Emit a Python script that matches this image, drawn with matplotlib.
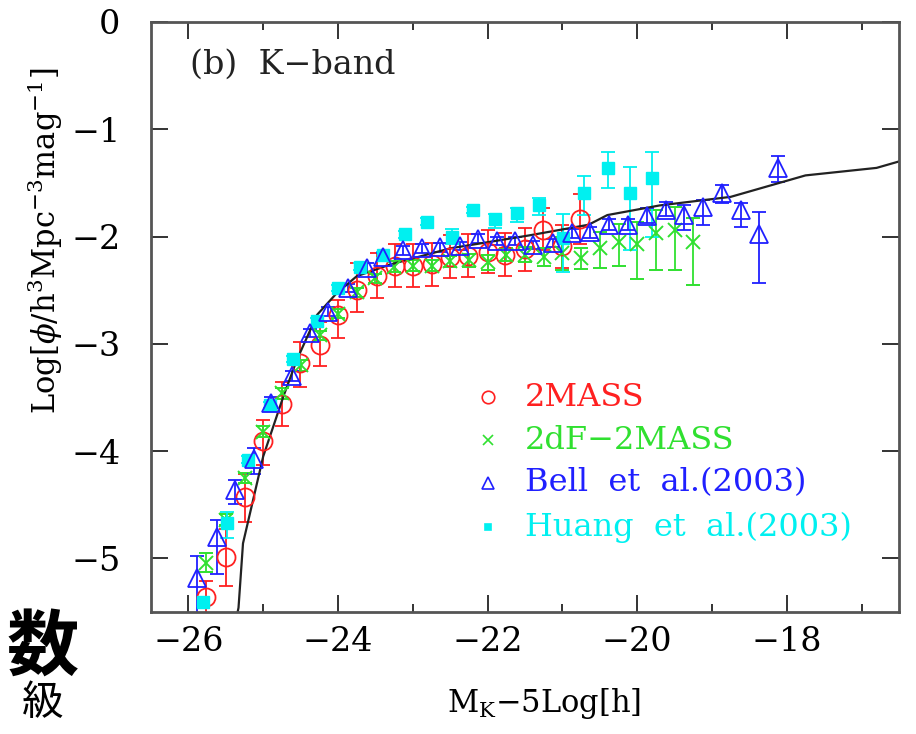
import numpy as np
import matplotlib.pyplot as plt
from matplotlib.ticker import MultipleLocator

plt.rcParams['font.family'] = 'DejaVu Serif'
plt.rcParams['mathtext.fontset'] = 'dejavuserif'

# model curve
model_x = [-25.40, -25.33, -25.27, -25.0, -24.73, -24.55, -24.28, -24.02, -23.75, -23.3,
           -22.5, -21.45, -20.65, -20.4, -19.7, -18.75, -18.05, -17.75, -16.8, -16.5]
model_y = [-5.70, -5.46, -4.86, -4.05, -3.49, -3.15, -2.73, -2.53, -2.37, -2.26,
           -2.11, -1.99, -1.89, -1.80, -1.71, -1.63, -1.49, -1.43, -1.36, -1.30]

# 2MASS
mass_x = [-25.76, -25.50, -25.25, -25.00, -24.75, -24.51, -24.24, -24.00, -23.75, -23.48,
          -23.24, -23.00, -22.75, -22.50, -22.26, -22.00, -21.77, -21.50, -21.26, -21.00, -20.76]
mass_y = [-5.36, -4.99, -4.43, -3.91, -3.56, -3.18, -3.01, -2.73, -2.50, -2.37,
          -2.27, -2.27, -2.26, -2.19, -2.18, -2.14, -2.17, -2.12, -1.94, -2.09, -1.84]
mass_lo = [0.15, 0.27, 0.23, 0.22, 0.21, 0.22, 0.20, 0.22, 0.20, 0.20,
           0.20, 0.20, 0.20, 0.20, 0.20, 0.20, 0.20, 0.20, 0.19, 0.20, 0.23]
mass_hi = [0.15, 0.26, 0.22, 0.20, 0.20, 0.20, 0.21, 0.14, 0.25, 0.22,
           0.20, 0.20, 0.20, 0.20, 0.20, 0.20, 0.20, 0.20, 0.21, 0.20, 0.24]

# 2dF-2MASS
tdf_x = [-25.76, -25.50, -25.25, -25.00, -24.75, -24.49, -24.24, -24.00, -23.75, -23.50,
         -23.25, -23.00, -22.75, -22.50, -22.25, -22.00, -21.75, -21.50, -21.25, -21.00,
         -20.75, -20.50, -20.25, -20.00, -19.75, -19.50, -19.25]
tdf_y = [-5.04, -4.64, -4.25, -3.82, -3.46, -3.20, -2.92, -2.72, -2.52, -2.39,
         -2.28, -2.27, -2.27, -2.23, -2.22, -2.24, -2.17, -2.17, -2.19, -2.15,
         -2.20, -2.11, -2.05, -2.07, -1.97, -1.94, -2.05]
tdf_lo = [0.09, 0.05, 0.05, 0.05, 0.05, 0.05, 0.04, 0.04, 0.04, 0.04,
          0.05, 0.05, 0.05, 0.05, 0.06, 0.07, 0.06, 0.07, 0.08, 0.16,
          0.10, 0.18, 0.22, 0.33, 0.34, 0.37, 0.40]
tdf_hi = [0.09, 0.05, 0.05, 0.05, 0.05, 0.05, 0.04, 0.04, 0.04, 0.04,
          0.05, 0.05, 0.05, 0.05, 0.06, 0.07, 0.06, 0.07, 0.08, 0.15,
          0.09, 0.15, 0.17, 0.21, 0.22, 0.22, 0.22]

# Bell et al. (2003)
bell_x = [-25.88, -25.62, -25.38, -25.12, -24.89, -24.62, -24.37, -24.13, -23.87, -23.61,
          -23.40, -23.13, -22.88, -22.64, -22.37, -22.13, -21.87, -21.63, -21.39, -21.13,
          -20.87, -20.63, -20.38, -20.12, -19.87, -19.62, -19.37, -19.12, -18.87, -18.61,
          -18.37, -18.12]
bell_y = [-5.18, -4.80, -4.36, -4.07, -3.55, -3.30, -2.90, -2.70, -2.48, -2.29,
          -2.19, -2.13, -2.11, -2.10, -2.09, -2.02, -2.04, -2.04, -2.08, -2.06,
          -1.97, -1.96, -1.89, -1.89, -1.81, -1.75, -1.80, -1.72, -1.59, -1.75,
          -1.98, -1.36]
bell_lo = [0.40, 0.35, 0.13, 0.14, 0.05, 0.05, 0.04, 0.04, 0.04, 0.04,
           0.04, 0.04, 0.04, 0.04, 0.04, 0.04, 0.04, 0.04, 0.04, 0.04,
           0.04, 0.05, 0.05, 0.05, 0.06, 0.06, 0.14, 0.17, 0.10, 0.16,
           0.45, 0.13]
bell_hi = [0.20, 0.16, 0.09, 0.10, 0.05, 0.05, 0.04, 0.04, 0.04, 0.04,
           0.04, 0.04, 0.04, 0.04, 0.04, 0.04, 0.04, 0.04, 0.04, 0.04,
           0.04, 0.05, 0.05, 0.05, 0.08, 0.07, 0.09, 0.06, 0.07, 0.06,
           0.21, 0.11]

# Huang et al. (2003)
huang_x = [-25.80, -25.49, -25.20, -24.91, -24.60, -24.28, -24.00, -23.71, -23.40, -23.10,
           -22.81, -22.48, -22.20, -21.90, -21.61, -21.31, -20.99, -20.71, -20.39, -20.10, -19.80]
huang_y = [-5.41, -4.67, -4.08, -3.57, -3.14, -2.79, -2.48, -2.28, -2.17, -1.98,
           -1.86, -2.00, -1.75, -1.84, -1.78, -1.71, -2.01, -1.59, -1.36, -1.59, -1.45]
huang_lo = [0.05, 0.14, 0.03, 0.03, 0.03, 0.03, 0.03, 0.03, 0.03, 0.03,
            0.03, 0.07, 0.03, 0.08, 0.08, 0.09, 0.32, 0.21, 0.19, 0.54, 0.55]
huang_hi = [0.05, 0.10, 0.03, 0.03, 0.03, 0.03, 0.03, 0.03, 0.03, 0.03,
            0.03, 0.07, 0.03, 0.05, 0.05, 0.07, 0.22, 0.15, 0.15, 0.24, 0.24]

fig = plt.figure(figsize=(9.16, 7.34), dpi=100)
ax = fig.add_axes([151/916, 1 - 612/734, 748/916, 590/734])

eb = dict(capsize=5, elinewidth=1.3, capthick=1.3, linestyle='none')
ax.errorbar(mass_x, mass_y, yerr=[mass_lo, mass_hi], marker='o', ms=13, mfc='none',
            mec='#ff2020', mew=1.3, ecolor='#ff2020', **eb)
ax.errorbar(tdf_x, tdf_y, yerr=[tdf_lo, tdf_hi], marker='x', ms=10, mec='#30e030',
            mew=1.4, ecolor='#30e030', **eb)
ax.errorbar(huang_x, huang_y, yerr=[huang_lo, huang_hi], marker='s', ms=8, mfc='#00f0f0',
            mec='#00f0f0', ecolor='#00f0f0', **eb)
ax.errorbar(bell_x, bell_y, yerr=[bell_lo, bell_hi], marker='^', ms=13, mfc='none',
            mec='#2020ff', mew=1.3, ecolor='#2020ff', **eb)
ax.plot(model_x, model_y, color='#222222', lw=1.6)

ax.set_xlim(-26.5, -16.5)
ax.set_ylim(-5.5, 0)
ax.xaxis.set_major_locator(MultipleLocator(2))
ax.xaxis.set_minor_locator(MultipleLocator(1))
ax.yaxis.set_major_locator(MultipleLocator(1))
ax.yaxis.set_minor_locator(MultipleLocator(1))
ax.tick_params(which='both', direction='in', top=True, right=True, width=1.4, color='#333333')
ax.tick_params(which='major', length=12, labelsize=24)
ax.tick_params(which='minor', length=6)
ax.tick_params(axis='y', pad=22)
ax.tick_params(axis='x', pad=10)
for s in ax.spines.values():
    s.set_linewidth(2)
    s.set_color('#555555')

ax.set_xlabel(r'M$_\mathrm{K}$$-$5Log[h]', fontsize=22)
ax.xaxis.set_label_coords(0.525, -0.125)
ax.set_ylabel(r'Log[$\phi$/h$^3$Mpc$^{-3}$mag$^{-1}$]', fontsize=22)
ax.yaxis.set_label_coords(-0.115, 0.63)

ax.text(0.052, 0.927, '(b)  K\u2212band', transform=ax.transAxes, fontsize=24,
        va='center', ha='left', color='#222222')

# legend
labels = ['2MASS', '2dF\u22122MASS', 'Bell  et  al.(2003)', 'Huang  et  al.(2003)']
colors = ['#ff2020', '#30e030', '#2020ff', '#00f0f0']
markers = ['o', 'x', '^', 's']
msizes = [9, 7, 8, 5]
rows = [0.3644, 0.2915, 0.2186, 0.1441]
for lab, c, m, s, ry in zip(labels, colors, markers, msizes, rows):
    filled = m == 's'
    ax.plot([0.4505], [ry], transform=ax.transAxes, marker=m, ms=s,
            mfc=c if filled else 'none', mec=c, mew=1.2, linestyle='none')
    ax.text(0.5, ry, lab, transform=ax.transAxes, fontsize=23, color=c,
            va='center', ha='left')

# slide text behind the chart
fig.text(7/916, 1 - 649/734, '数', fontsize=52, fontweight='bold',
         family=['Noto Sans CJK JP'], va='center', ha='left')
fig.text(64/916, 1 - 704/734, '級', fontsize=30,
         family=['Noto Sans CJK JP'], va='center', ha='right')

fig.savefig('out.png', dpi=100)
